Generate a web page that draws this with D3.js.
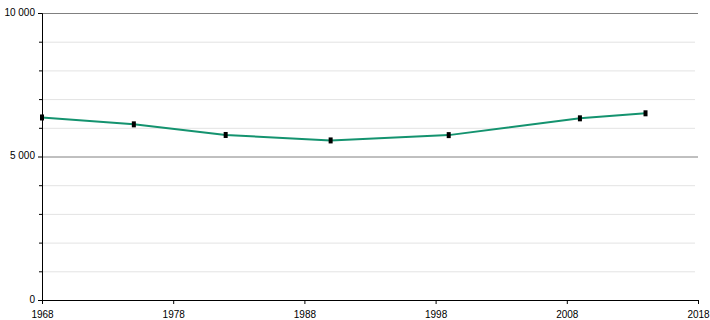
<!DOCTYPE html>
<meta charset="utf-8">
<style>
  body { margin: 0; background: #fff; }
  text { font-family: "Liberation Sans", Arial, sans-serif; font-size: 10px; fill: #000; }
</style>
<body>
<script src="https://cdn.jsdelivr.net/npm/d3@7"></script>
<script>
// census years and population values
var years = [1968, 1975, 1982, 1990, 1999, 2009, 2014];
var population = [6360, 6120, 5750, 5560, 5745, 6330, 6505];
var xTicks = [1968, 1978, 1988, 1998, 2008, 2018];
var yMajor = [0, 5000, 10000];
var yMinor = [1000, 2000, 3000, 4000, 6000, 7000, 8000, 9000];

var margin = {top: 13, right: 12, bottom: 20, left: 42},
  width = 710 - margin.left - margin.right,
  height = 320 - margin.top - margin.bottom;

var svg = d3.select("body").append("svg")
    .attr("width", 710)
    .attr("height", 320)
  .append("g")
    .attr("transform", "translate(" + margin.left + "," + margin.top + ")");

var x = d3.scaleLinear().domain([1968, 2018]).range([0, width]);
var y = d3.scaleLinear().domain([0, 10000]).range([height, 0]);

// light gridlines
svg.selectAll(".minor")
  .data(yMinor)
  .enter().append("line")
    .attr("x1", 0).attr("x2", width - 3)
    .attr("y1", function(d) { return y(d) + 0.5; })
    .attr("y2", function(d) { return y(d) + 0.5; })
    .style("stroke", "#e3e3e3");

// dark gridlines
svg.selectAll(".major")
  .data(yMajor.filter(function(d) { return d > 0; }))
  .enter().append("line")
    .attr("x1", 0).attr("x2", width)
    .attr("y1", function(d) { return y(d) + 0.5; })
    .attr("y2", function(d) { return y(d) + 0.5; })
    .style("stroke", "#808080");

// y axis
var yAxis = svg.append("g")
  .call(d3.axisLeft(y).tickValues(yMajor).tickSize(4).tickPadding(3)
    .tickFormat(function(d) { return d3.format(",")(d).replace(",", " "); }));
yAxis.selectAll(".tick")
  .attr("transform", function(d) { return "translate(0," + (y(d) + 0.5) + ")"; });
yAxis.selectAll(".tick text").attr("dy", "0.2em");
svg.append("g")
  .call(d3.axisLeft(y).tickValues(yMinor).tickSize(3).tickFormat(""))
  .select(".domain").remove();

// x axis
var xAxis = svg.append("g")
  .attr("transform", "translate(0," + height + ")")
  .call(d3.axisBottom(x).tickValues(xTicks).tickFormat(d3.format("d")).tickSize(4).tickPadding(7));
xAxis.select(".domain").attr("d", "M0.5,0.5H" + (width + 0.5));

svg.selectAll(".domain").style("stroke", "#000");
svg.selectAll(".tick line").style("stroke", "#000");
svg.selectAll(".tick text").style("font-size", "10px").style("font-family", "Liberation Sans, Arial, sans-serif");

// line
svg.append("path")
  .datum(years.map(function(d, i) { return [d, population[i]]; }))
  .attr("d", d3.line()
    .x(function(d) { return x(d[0]); })
    .y(function(d) { return y(d[1]); }))
  .style("fill", "none")
  .style("stroke", "#14936f")
  .style("stroke-width", 2);

// markers
svg.selectAll(".pt")
  .data(years)
  .enter().append("rect")
    .attr("x", function(d) { return x(d) - 2; })
    .attr("y", function(d, i) { return y(population[i]) - 3; })
    .attr("width", 4)
    .attr("height", 6)
    .style("fill", "#000");
</script>
</body>
